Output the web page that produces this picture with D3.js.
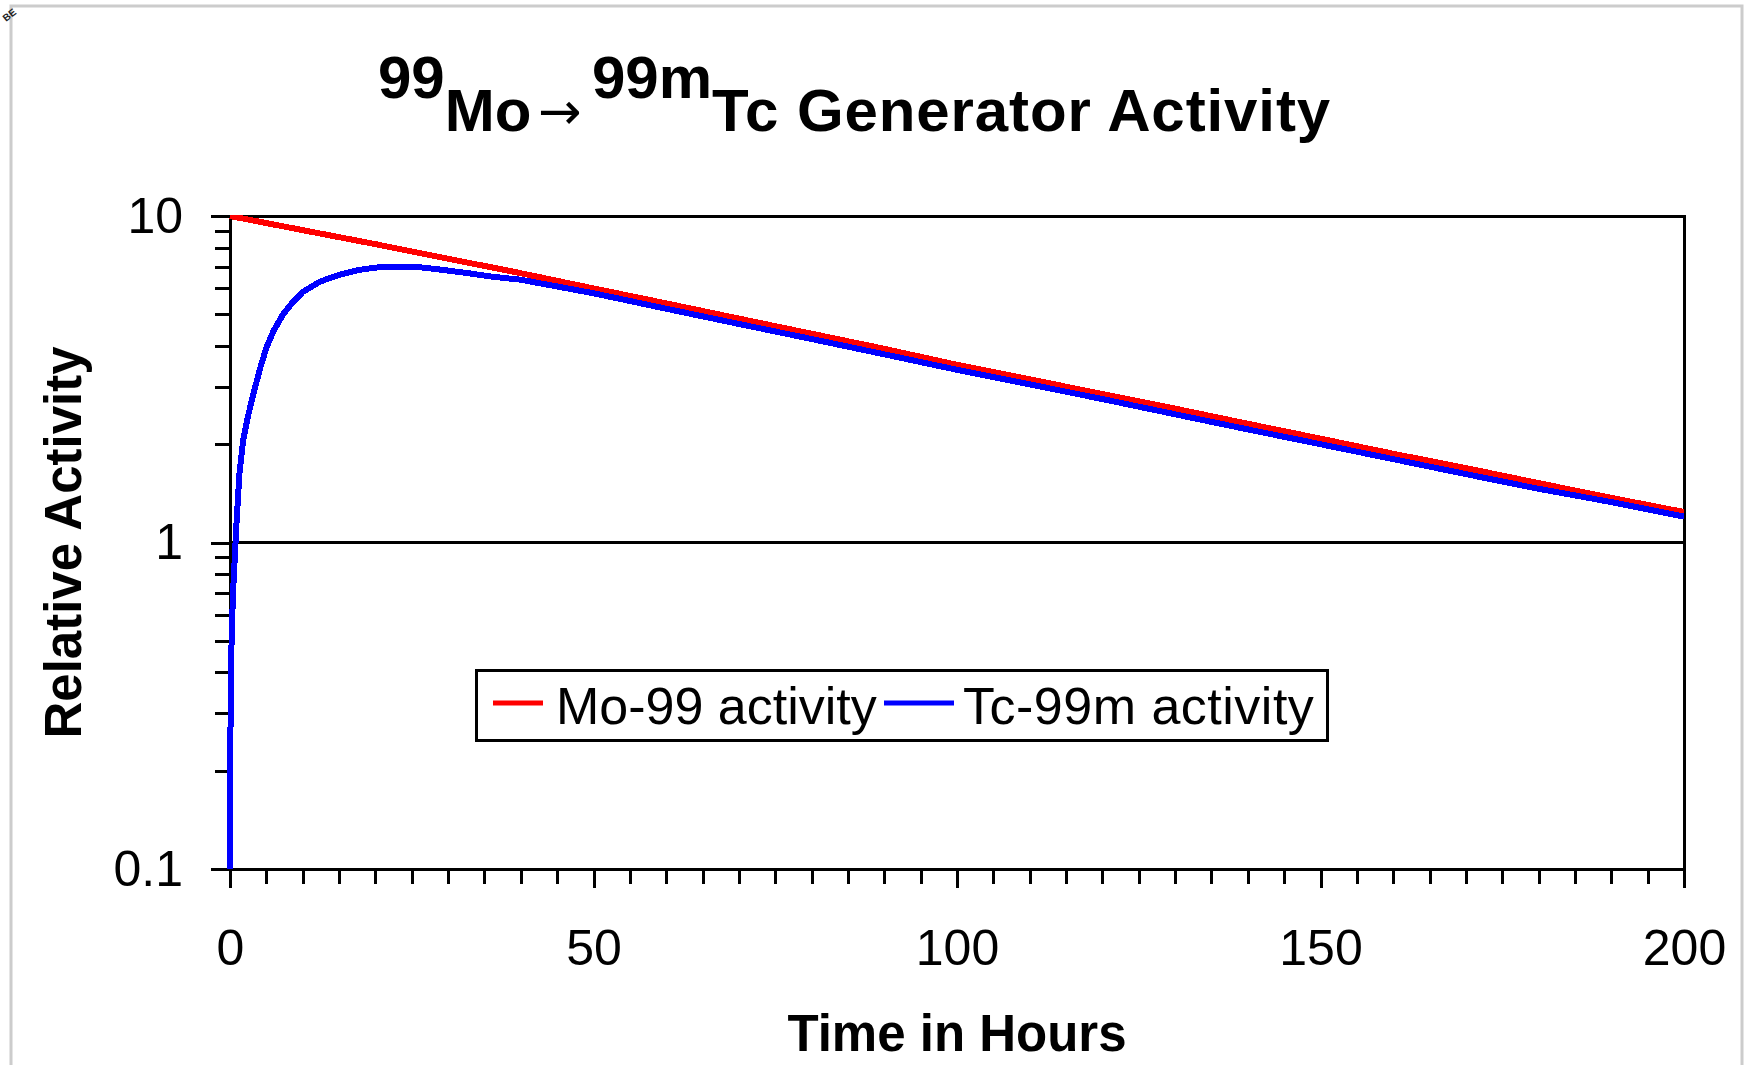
<!DOCTYPE html>
<html>
<head>
<meta charset="utf-8">
<script src="https://cdn.jsdelivr.net/npm/d3@7"></script>
<style>
  body { margin: 0; background: #fff; }
  svg { display: block; font-family: "Liberation Sans", Arial, sans-serif; }
</style>
</head>
<body>
<svg id="chart" width="1744" height="1065"></svg>
<script>
// values
var moHours    = [0, 10, 20, 30, 40, 50, 60, 70, 80, 90, 100, 110, 120, 130, 140, 150, 160, 170, 180, 190, 200];
var moActivity = [10, 9.05, 8.2, 7.4, 6.68, 6.0, 5.4, 4.85, 4.36, 3.92, 3.5, 3.16, 2.85, 2.57, 2.31, 2.08, 1.87, 1.69, 1.52, 1.37, 1.24];

var tcHours    = [0, 0.1, 0.4, 0.9, 1.3, 1.8, 2.5, 3.3, 4.2, 5, 6, 7.3, 8.5, 10, 12.4, 15, 17.6, 20, 23, 26, 29, 33, 36, 40,
                  50, 60, 70, 80, 90, 100, 110, 120, 130, 140, 150, 160, 170, 180, 190, 200];
var tcActivity = [0.1, 0.4, 0.69, 1.15, 1.63, 2.05, 2.45, 2.9, 3.45, 3.95, 4.45, 5.0, 5.4, 5.85, 6.3, 6.6, 6.83, 6.95, 7.0, 6.97, 6.85, 6.67, 6.52, 6.38,
                  5.8, 5.2, 4.67, 4.2, 3.77, 3.38, 3.05, 2.75, 2.47, 2.22, 2.0, 1.8, 1.62, 1.46, 1.33, 1.2];

var seriesNames  = ["Mo-99 activity", "Tc-99m activity"];
var seriesColors = ["#ff0000", "#0000ff"];

var xMajorTicks = [0, 50, 100, 150, 200];
var yMajorTicks = [0.1, 1, 10];
var yMajorLabels = ["0.1", "1", "10"];

var cfg = { left: 230, right: 1684, top: 216, bottom: 869 };

var svg = d3.select("#chart");

// outer grey frame and a small mark in the corner
svg.append("rect")
  .attr("x", 11).attr("y", 6).attr("width", 1731).attr("height", 1100)
  .attr("fill", "none").attr("stroke", "#cccccc").attr("stroke-width", 3);
svg.append("text")
  .attr("transform", "translate(6,22) rotate(-38)")
  .attr("font-size", 10).attr("font-weight", "bold").attr("fill", "#222")
  .text("BE");

var x = d3.scaleLinear().domain([0, 200]).range([cfg.left, cfg.right]);
var y = d3.scaleLog().domain([0.1, 10]).range([cfg.bottom, cfg.top]);

// title with raised mass numbers
var title = svg.append("text")
  .attr("y", 131).attr("font-size", 60).attr("font-weight", "bold").attr("fill", "#000");
title.append("tspan").attr("x", 378).attr("y", 98).text("99");
title.append("tspan").attr("y", 131).text("Mo");
title.append("tspan").attr("x", 538).attr("y", 129)
  .attr("font-family", "'DejaVu Sans', sans-serif")
  .attr("font-size", 52).attr("font-weight", "normal").text("\u2192");
title.append("tspan").attr("x", 592).attr("y", 98).text("99m");
title.append("tspan").attr("x", 712).attr("y", 131).attr("letter-spacing", 0.9).text("Tc Generator Activity");

// x axis ticks
var xMinor = svg.append("g")
  .attr("transform", "translate(0," + cfg.bottom + ")")
  .call(d3.axisBottom(x).tickValues(d3.range(0, 201, 5)).tickSize(15).tickFormat(""));
var xMajor = svg.append("g")
  .attr("transform", "translate(0," + cfg.bottom + ")")
  .call(d3.axisBottom(x).tickValues(xMajorTicks).tickSize(19).tickPadding(41).tickFormat(d3.format("d")));

// y axis ticks
var yMinorVals = [];
[0.1, 1].forEach(function(b) { for (var k = 2; k <= 9; k++) yMinorVals.push(b * k); });
var yMinor = svg.append("g")
  .attr("transform", "translate(" + cfg.left + ",0)")
  .call(d3.axisLeft(y).tickValues(yMinorVals).tickSize(15).tickFormat(""));
var yMajor = svg.append("g")
  .attr("transform", "translate(" + cfg.left + ",0)")
  .call(d3.axisLeft(y).tickValues(yMajorTicks).tickSize(19).tickPadding(28)
        .tickFormat(function(d, i) { return yMajorLabels[i]; }));

[xMinor, xMajor, yMinor, yMajor].forEach(function(g) {
  g.select(".domain").remove();
  g.selectAll("line").attr("stroke", "#000").attr("stroke-width", 3).attr("shape-rendering", "crispEdges");
  g.selectAll("text").attr("font-size", 50).attr("fill", "#000")
    .attr("font-family", "'Liberation Sans', Arial, sans-serif");
});

// gridline at 1 and plot border
svg.append("line")
  .attr("x1", cfg.left).attr("x2", cfg.right).attr("y1", y(1)).attr("y2", y(1))
  .attr("stroke", "#000").attr("stroke-width", 3).attr("shape-rendering", "crispEdges");
svg.append("rect")
  .attr("x", cfg.left).attr("y", cfg.top)
  .attr("width", cfg.right - cfg.left).attr("height", cfg.bottom - cfg.top)
  .attr("fill", "none").attr("stroke", "#000").attr("stroke-width", 3).attr("shape-rendering", "crispEdges");

// data lines
svg.append("clipPath").attr("id", "plotclip").append("rect")
  .attr("x", cfg.left - 3).attr("y", cfg.top - 1)
  .attr("width", cfg.right - cfg.left + 3).attr("height", cfg.bottom - cfg.top + 1);

var line = d3.line().x(function(d) { return x(d[0]); }).y(function(d) { return y(d[1]); });
var series = [
  d3.zip(moHours, moActivity),
  d3.zip(tcHours, tcActivity)
];
svg.append("g").attr("clip-path", "url(#plotclip)")
  .selectAll("path").data(series).enter().append("path")
  .attr("d", line)
  .attr("fill", "none")
  .attr("stroke", function(d, i) { return seriesColors[i]; })
  .attr("stroke-width", 6)
  .attr("shape-rendering", "crispEdges");

// legend
var legend = svg.append("g");
legend.append("rect")
  .attr("x", 476).attr("y", 670).attr("width", 851).attr("height", 70)
  .attr("fill", "#fff").attr("stroke", "#000").attr("stroke-width", 3).attr("shape-rendering", "crispEdges");
var legendX = [493, 884];
var items = legend.selectAll("g.item").data(seriesNames).enter().append("g").attr("class", "item");
items.append("line")
  .attr("x1", function(d, i) { return legendX[i]; })
  .attr("x2", function(d, i) { return legendX[i] + (i ? 70 : 50); })
  .attr("y1", 703).attr("y2", 703)
  .attr("stroke", function(d, i) { return seriesColors[i]; })
  .attr("stroke-width", 5);
items.append("text")
  .attr("x", function(d, i) { return legendX[i] + (i ? 79 : 63); })
  .attr("y", 724)
  .attr("font-size", 52).attr("fill", "#000")
  .attr("letter-spacing", function(d, i) { return i ? 0.5 : 0; })
  .text(function(d) { return d; });

// axis titles
svg.append("text")
  .attr("x", (cfg.left + cfg.right) / 2).attr("y", 1051)
  .attr("text-anchor", "middle").attr("font-size", 51).attr("font-weight", "bold")
  .text("Time in Hours");
svg.append("text")
  .attr("transform", "translate(81," + (cfg.top + cfg.bottom) / 2 + ") rotate(-90)")
  .attr("text-anchor", "middle").attr("font-size", 51).attr("font-weight", "bold")
  .text("Relative Activity");
</script>
</body>
</html>
